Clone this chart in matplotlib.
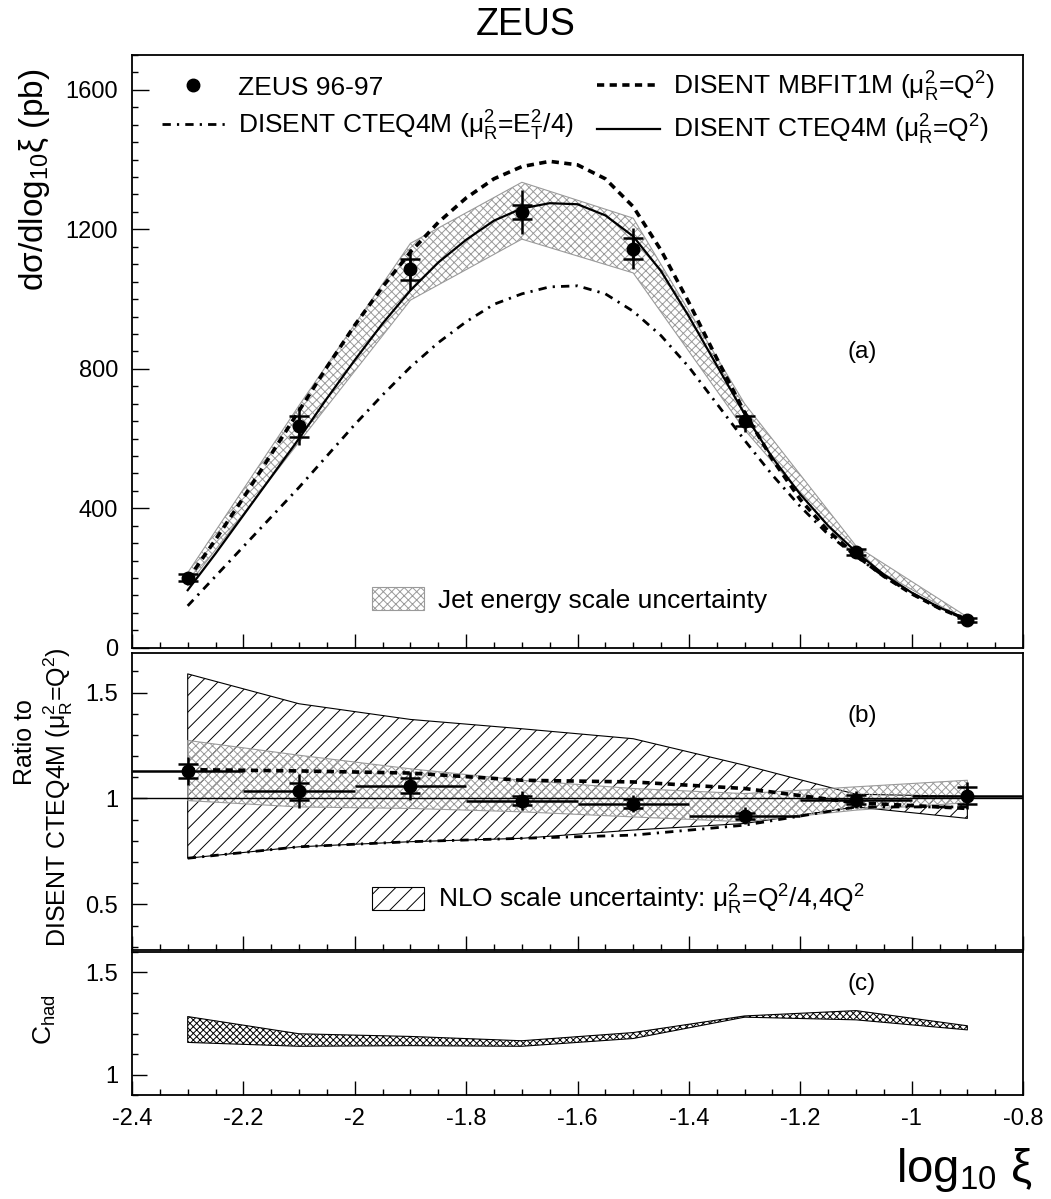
import numpy as np
import matplotlib
matplotlib.use('Agg')
import matplotlib.pyplot as plt
from matplotlib.lines import Line2D
from matplotlib.patches import Patch
from matplotlib.ticker import MultipleLocator, FuncFormatter

plt.rcParams['font.family'] = ['Liberation Sans', 'DejaVu Sans']
plt.rcParams['mathtext.fontset'] = 'custom'
plt.rcParams['mathtext.rm'] = 'Liberation Sans'
plt.rcParams['mathtext.it'] = 'Liberation Sans:italic'
plt.rcParams['mathtext.default'] = 'regular'
plt.rcParams['axes.unicode_minus'] = False
plt.rcParams['hatch.linewidth'] = 0.7

# bin centres in log10(xi), bin half width
xi = [-2.3, -2.1, -1.9, -1.7, -1.5, -1.3, -1.1, -0.9]
half_bin = 0.1

# (a) cross section, pb
sigma = [200, 635, 1085, 1250, 1145, 650, 275, 80]
sigma_stat = [10, 30, 30, 20, 30, 15, 8, 5]
sigma_tot = [15, 55, 60, 64, 60, 30, 15, 8]
jes_hi = [215, 695, 1160, 1335, 1232, 700, 292, 88]
jes_lo = [178, 590, 997, 1172, 1075, 625, 258, 76]

# (a) theory curves every 0.05
x_curve = [-2.3, -2.25, -2.2, -2.15, -2.1, -2.05, -2.0, -1.95, -1.9, -1.85,
           -1.8, -1.75, -1.7, -1.65, -1.6, -1.55, -1.5, -1.45, -1.4, -1.35,
           -1.3, -1.25, -1.2, -1.15, -1.1, -1.05, -1.0, -0.95, -0.9]
cteq_q2 = [165, 270, 380, 490, 600, 715, 825, 930, 1025, 1105,
           1170, 1225, 1260, 1275, 1272, 1240, 1180, 1080, 950, 810,
           670, 545, 440, 350, 275, 210, 158, 115, 82]
mbfit_q2 = [195, 310, 430, 555, 680, 805, 925, 1035, 1135, 1220,
            1290, 1345, 1380, 1395, 1385, 1345, 1265, 1140, 990, 830,
            675, 540, 425, 335, 265, 205, 155, 113, 80]
cteq_et = [120, 205, 290, 375, 460, 550, 640, 725, 805, 875,
           935, 985, 1015, 1035, 1038, 1015, 965, 895, 805, 700,
           595, 495, 405, 325, 262, 205, 155, 113, 80]

# (b) ratio to DISENT CTEQ4M (mu_R^2 = Q^2)
ratio = [1.13, 1.035, 1.06, 0.99, 0.976, 0.918, 0.995, 1.014]
ratio_stat = [0.035, 0.04, 0.035, 0.02, 0.02, 0.015, 0.02, 0.04]
ratio_tot = [0.065, 0.08, 0.065, 0.045, 0.04, 0.04, 0.04, 0.065]
ratio_mbfit = [1.136, 1.13, 1.12, 1.086, 1.078, 1.047, 0.98, 0.953]
ratio_et = [0.718, 0.772, 0.796, 0.812, 0.827, 0.874, 0.96, 0.96]
rjes_hi = [1.274, 1.204, 1.14, 1.086, 1.047, 1.023, 1.055, 1.086]
rjes_lo = [0.99, 0.96, 0.953, 0.937, 0.913, 0.89, 0.945, 0.98]
nlo_hi = [1.588, 1.447, 1.373, 1.329, 1.282, 1.157, 1.02, 1.01]
nlo_lo = [0.718, 0.772, 0.796, 0.812, 0.851, 0.882, 0.96, 0.906]

# (c) hadronisation correction band
chad_hi = [1.284, 1.20, 1.187, 1.166, 1.206, 1.287, 1.313, 1.239]
chad_lo = [1.158, 1.139, 1.142, 1.139, 1.177, 1.281, 1.268, 1.219]

DASHED = (0, (2.0, 1.5))
DASHDOT = (0, (3.0, 2.2, 0.8, 2.2))
TICK_FS = 17
LEG_FS = 19
fmt = FuncFormatter(lambda v, p: '%g' % round(v, 3))


def style_axis(ax, ymaj, ymin, ylen=10.5):
    ax.set_xlim(-2.4, -0.8)
    ax.xaxis.set_major_locator(MultipleLocator(0.2))
    ax.xaxis.set_minor_locator(MultipleLocator(0.05))
    ax.yaxis.set_major_locator(MultipleLocator(ymaj))
    ax.yaxis.set_minor_locator(MultipleLocator(ymin))
    ax.xaxis.set_major_formatter(fmt)
    ax.yaxis.set_major_formatter(fmt)
    ax.tick_params(which='both', direction='in', top=False, right=False,
                   labelsize=TICK_FS, width=1.0)
    ax.tick_params(axis='x', which='major', length=10, pad=9)
    ax.tick_params(axis='x', which='minor', length=4.5)
    ax.tick_params(axis='y', which='major', length=ylen, pad=10)
    ax.tick_params(axis='y', which='minor', length=4.5)
    for s in ax.spines.values():
        s.set_linewidth(1.3)


def draw_points(ax, y, stat, tot, xerr=None):
    ax.errorbar(xi, y, yerr=tot, xerr=xerr, fmt='o', color='black', ms=9,
                elinewidth=1.8, capsize=0, zorder=6)
    ax.errorbar(xi, y, yerr=stat, fmt='none', ecolor='black',
                elinewidth=1.8, capsize=7, capthick=1.8, zorder=6)


def band_legend(ax, handle, text, anchor):
    ax.legend([handle], [text], loc='center left', bbox_to_anchor=anchor,
              frameon=False, borderpad=0, borderaxespad=0, fontsize=LEG_FS,
              handlelength=2.0, handleheight=0.95, handletextpad=0.5)


fig = plt.figure(figsize=(10.51, 11.99), dpi=100)
ax_a = fig.add_axes([0.1256, 0.4598, 0.8478, 0.4943])
ax_b = fig.add_axes([0.1256, 0.2077, 0.8478, 0.2474])
ax_c = fig.add_axes([0.1256, 0.0865, 0.8478, 0.1197])

# ---- panel (a)
ax_a.fill_between(xi, jes_lo, jes_hi, facecolor='none', edgecolor='#9a9a9a',
                  hatch='xxxx', lw=0.8, zorder=2)
ax_a.plot(x_curve, cteq_et, color='black', lw=2.0, ls=DASHDOT, zorder=3)
ax_a.plot(x_curve, mbfit_q2, color='black', lw=2.6, ls=DASHED, zorder=3)
ax_a.plot(x_curve, cteq_q2, color='black', lw=1.6, zorder=4)
draw_points(ax_a, sigma, sigma_stat, sigma_tot)
ax_a.set_ylim(0, 1700)
style_axis(ax_a, 400, 50, ylen=12)
ax_a.tick_params(axis='x', labelbottom=False)

handles = [Line2D([], [], marker='o', ls='none', color='black', ms=9),
           Line2D([], [], color='black', lw=2.0, ls=DASHDOT),
           Line2D([], [], color='black', lw=2.6, ls=DASHED),
           Line2D([], [], color='black', lw=1.6)]
labels = ['ZEUS 96-97',
          'DISENT CTEQ4M (μ$_R^2$=E$_T^2$/4)',
          'DISENT MBFIT1M (μ$_R^2$=Q$^2$)',
          'DISENT CTEQ4M (μ$_R^2$=Q$^2$)']
leg = ax_a.legend(handles, labels, ncol=2, loc='upper left',
                  bbox_to_anchor=(0.0333, 0.975), frameon=False, borderpad=0,
                  borderaxespad=0, fontsize=LEG_FS, handlelength=2.4,
                  handletextpad=0.5, columnspacing=0.85, labelspacing=0.35)
ax_a.add_artist(leg)
band_legend(ax_a, Patch(facecolor='none', edgecolor='#9a9a9a', hatch='xxxx', lw=0.8),
            'Jet energy scale uncertainty', (0.269, 0.0805))
ax_a.text(0.819, 0.499, '(a)', transform=ax_a.transAxes, fontsize=17.5,
          ha='center', va='center')

# ---- panel (b)
ax_b.fill_between(xi, nlo_lo, nlo_hi, facecolor='none', edgecolor='black',
                  hatch='//', lw=0.8, zorder=1)
ax_b.fill_between(xi, rjes_lo, rjes_hi, facecolor='none', edgecolor='#9a9a9a',
                  hatch='xxxx', lw=0.8, zorder=2)
ax_b.axhline(1.0, color='black', lw=1.0, zorder=3)
ax_b.plot(xi, ratio_mbfit, color='black', lw=2.6, ls=DASHED, zorder=4)
ax_b.plot(xi, ratio_et, color='black', lw=2.0, ls=DASHDOT, zorder=4)
draw_points(ax_b, ratio, ratio_stat, ratio_tot, xerr=half_bin)
ax_b.set_ylim(0.285, 1.685)
style_axis(ax_b, 0.5, 0.1)
ax_b.tick_params(axis='x', labelbottom=False)
band_legend(ax_b, Patch(facecolor='none', edgecolor='black', hatch='//', lw=0.8),
            'NLO scale uncertainty: μ$_R^2$=Q$^2$/4,4Q$^2$', (0.269, 0.169))
ax_b.text(0.819, 0.789, '(b)', transform=ax_b.transAxes, fontsize=17.5,
          ha='center', va='center')

# ---- panel (c)
ax_c.fill_between(xi, chad_lo, chad_hi, facecolor='none', edgecolor='black',
                  hatch='xxxxx', lw=0.8, zorder=2)
ax_c.set_ylim(0.9, 1.6)
style_axis(ax_c, 0.5, 0.1)
ax_c.text(0.819, 0.775, '(c)', transform=ax_c.transAxes, fontsize=17.5,
          ha='center', va='center')

# ---- figure texts
fig.text(0.5, 1 - 25 / 1199, 'ZEUS', fontsize=27, ha='center', va='center')
fig.text(35 / 1051, 1 - 180 / 1199, 'dσ/dlog$_{10}$ξ (pb)', fontsize=24,
         rotation=90, ha='center', va='center')
fig.text(25 / 1051, 1 - 742 / 1199, 'Ratio to', fontsize=18,
         rotation=90, ha='center', va='center')
fig.text(58 / 1051, 1 - 797 / 1199, 'DISENT CTEQ4M (μ$_R^2$=Q$^2$)',
         fontsize=18, rotation=90, ha='center', va='center')
fig.text(45 / 1051, 1 - 1020 / 1199, 'C$_{had}$', fontsize=19,
         rotation=90, ha='center', va='center')
fig.text(1033 / 1051, 1 - 1182 / 1199, 'log$_{10}$ ξ', fontsize=34,
         ha='right', va='baseline')

fig.savefig('out.png', dpi=100)
